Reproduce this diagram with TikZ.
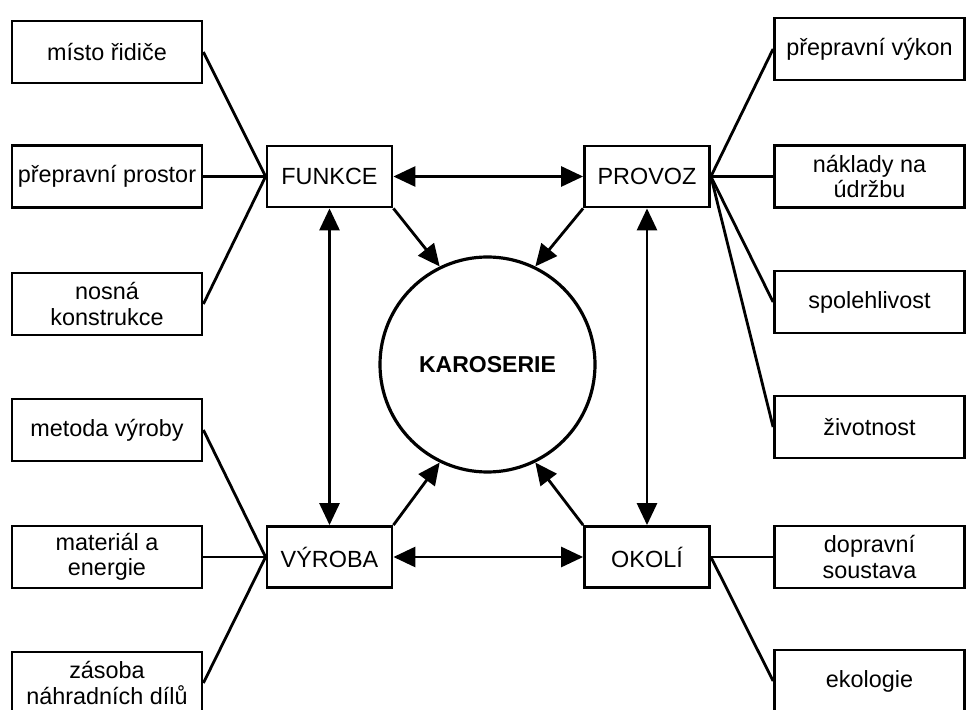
\documentclass[tikz,border=0pt]{standalone}
\usepackage{fontspec}
\setmainfont{Liberation Sans}
\usetikzlibrary{arrows.meta,positioning}
\tikzstyle{factor}=[draw,rectangle,minimum width=95pt,minimum height=31pt,inner sep=1pt,align=center]
\tikzstyle{sphere}=[draw,rectangle,minimum width=62.5pt,minimum height=30.5pt,inner sep=1pt]
\tikzstyle{core}=[draw,circle,minimum size=107.5pt,inner sep=0pt,line width=1.6pt,font=\bfseries\fontsize{11.5}{12.5}\selectfont]
\tikzstyle{into}=[-{Triangle[length=11pt,width=10pt]}]
\tikzstyle{mutual}=[{Triangle[length=11pt,width=10pt]}-{Triangle[length=11pt,width=10pt]}]

\begin{document}
\begin{tikzpicture}[line width=1.4pt,x=0.5pt,y=-0.5pt,font=\fontsize{11.7}{12.6}\selectfont]
    \useasboundingbox (0,0) rectangle (979,710);
    \node [core] (kar) at (487.5,364.5) {KAROSERIE};

    \node [sphere] (funkce) at (329.5,176.5) {FUNKCE};
    \node [sphere] (provoz) at (647,176.5) {PROVOZ};
    \node [sphere] (vyroba) at (329.5,557) {VÝROBA};
    \node [sphere] (okoli) at (647,557) {OKOLÍ};

    \node [factor] (misto) at (107,52) {místo řidiče};
    \node [factor] (prostor) at (107,176.5) {přepravní prostor};
    \node [factor] (nosna) at (107,304) {nosná\\konstrukce};
    \node [factor] (metoda) at (107,430) {metoda výroby};
    \node [factor] (material) at (107,557) {materiál a\\energie};
    \node [factor] (zasoba) at (107,683) {zásoba\\náhradních dílů};

    \node [factor] (vykon) at (869.5,49) {přepravní výkon};
    \node [factor] (naklady) at (869.5,176.5) {náklady na\\údržbu};
    \node [factor] (spolehl) at (869.5,302) {spolehlivost};
    \node [factor] (zivot) at (869.5,427) {životnost};
    \node [factor] (doprava) at (869.5,557) {dopravní\\soustava};
    \node [factor] (ekol) at (869.5,681) {ekologie};

    \foreach \n in {misto,prostor,nosna}
      \draw (\n.east) -- (funkce.west);
    \foreach \n in {metoda,material,zasoba}
      \draw (\n.east) -- (vyroba.west);
    \foreach \n in {vykon,naklady,spolehl,zivot}
      \draw (provoz.east) -- (\n.west);
    \foreach \n in {doprava,ekol}
      \draw (okoli.east) -- (\n.west);

    \draw [mutual] (funkce) -- (provoz);
    \draw [mutual] (vyroba) -- (okoli);
    \draw [mutual] (funkce) -- (vyroba);
    \draw [mutual] (provoz) -- (okoli);

    \draw [into] (funkce.south east) -- (kar.116);
    \draw [into] (provoz.south west) -- (kar.64);
    \draw [into] (vyroba.north east) -- (kar.244);
    \draw [into] (okoli.north west) -- (kar.296);
\end{tikzpicture}
\end{document}
